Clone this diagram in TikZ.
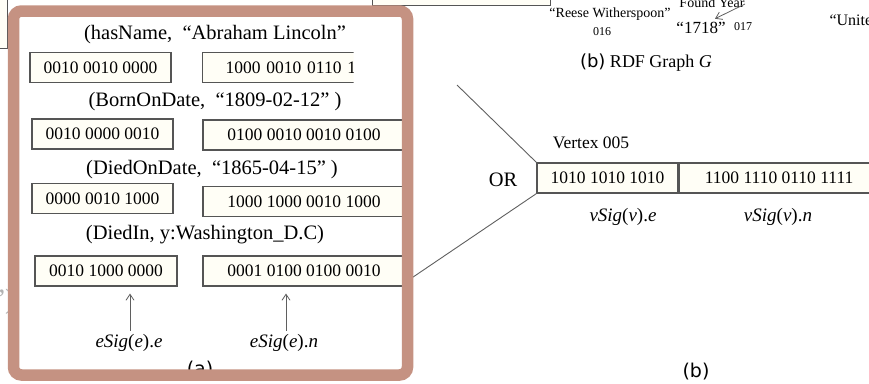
\documentclass[tikz,border=0pt]{standalone}
\usepackage{fontspec}
\setmainfont{Liberation Serif}
\newfontfamily\capfont{DejaVu Sans}
\usetikzlibrary{arrows.meta,positioning}
\definecolor{framebrown}{RGB}{197,146,130}
\definecolor{boxgray}{RGB}{85,85,85}
\definecolor{cream}{RGB}{255,254,246}
\definecolor{linegray}{RGB}{95,95,95}
\newcommand\sigtxt[3]{\textit{#1}(\textit{#2}).\textit{#3}}
\begin{document}
\begin{tikzpicture}[x=1pt,y=-1pt,
  bits/.style={draw=boxgray, fill=cream, line width=1.1pt, minimum height=30pt, inner sep=0pt, font=\fontsize{17.5}{20}\selectfont},
  pair/.style={font=\fontsize{20.5}{24}\selectfont},
  sig/.style={font=\fontsize{19}{22}\selectfont},
  small/.style={font=\fontsize{14}{17}\selectfont},
  tiny/.style={font=\fontsize{12}{14}\selectfont},
  subcap/.style={font=\capfont\fontsize{19}{22}\selectfont},
  tip/.style={draw=linegray, line width=0.8pt, -{Straight Barb[length=6pt,width=8pt]}}]
\useasboundingbox (0,0) rectangle (869,383);
\path[draw=boxgray,fill=cream,line width=0.8pt] (-5,-5) rectangle (7,48);
\path[draw=boxgray,fill=cream,line width=0.8pt] (372,-10) rectangle (550,5);
\node[small] (reese) at (610,14) {“Reese Witherspoon”};
\node[tiny] (n016) at (602,32) {016};
\node[small, anchor=base] (found) at (712,7) {Found Year};
\node[font=\fontsize{17}{20}\selectfont] (n1718) at (701,28) {“1718”};
\node[tiny] (n017) at (743,27) {017};
\node[font=\fontsize{16}{19}\selectfont, anchor=west] (unite) at (826,20) {“Unite};
\coordinate (fyarr) at (745,4);
\coordinate (fyend) at ([xshift=14pt]n1718.north);
\path[tip] (fyarr) -- (fyend);
\node[font=\fontsize{18}{21}\selectfont] (capg) at (646,63) {{\capfont (b)}\ RDF Graph \textit{G}};
\node[bits, minimum width=141pt] (v1) at (607.5,178) {1010 1010 1010};
\node[bits, minimum width=200pt, right=0pt of v1] (v2) {1100 1110 0110 1111};
\node[font=\fontsize{17.5}{20}\selectfont] (vlabel) at (591,143) {Vertex 005};
\node[pair] (or) at (503,180) {OR};
\node[sig] (ve) at (623,217) {\sigtxt{vSig}{v}{e}};
\node[sig] (vn) at (778,217) {\sigtxt{vSig}{v}{n}};
\node[subcap] (capb) at (696,372) {(b)};
\coordinate (up) at (457,85);
\coordinate (down) at (405,282.5);
\path[draw=linegray, line width=0.9pt] (up) -- (v1.north west);
\path[draw=linegray, line width=0.9pt] (down) -- (v1.south west);
\node[font=\fontsize{28}{30}\selectfont, text=gray!60, anchor=east] (gq) at (18,302) {”)};
\path[fill=white, rounded corners=8pt] (13.5,11) rectangle (407.5,375);
\node[pair] (t1) at (215,35) {(hasName,\ \ “Abraham Lincoln”};
\node[bits, minimum width=141pt] (l1) at (100.5,67.5) {0010 0010 0000};
\begin{scope}
\clip (0,0) rectangle (353.5,383);
\node[bits, anchor=west, inner xsep=23pt, text width=156pt, align=left] (r1) at (202,67.5) {1000 0010 0110 1};
\end{scope}
\node[pair] (t2) at (215,102) {(BornOnDate,\ \ “1809-02-12”\ )};
\node[bits, minimum width=141pt] (l2) at (102.5,134) {0010 0000 0010};
\node[bits, minimum width=202pt] (r2) at (304,135) {0100 0010 0010 0100};
\node[pair] (t3) at (212,170) {(DiedOnDate,\ \ “1865-04-15”\ )};
\node[bits, minimum width=141pt] (l3) at (102.5,198.5) {0000 0010 1000};
\node[bits, minimum width=202pt] (r3) at (304,201.5) {1000 1000 0010 1000};
\node[pair] (t4) at (205,235) {(DiedIn, y:Washington\_D.C)};
\node[bits, minimum width=142pt] (l4) at (106,271) {0010 1000 0000};
\node[bits, minimum width=202pt] (r4) at (304,271) {0001 0100 0100 0010};
\node[sig] (ee) at (129,343) {\sigtxt{eSig}{e}{e}};
\node[sig] (en) at (284,343) {\sigtxt{eSig}{e}{n}};
\coordinate (ea) at ([xshift=1pt]ee.north);
\coordinate (na) at ([xshift=2pt]en.north);
\path[tip, shorten >=7pt] (ea) -- (ea |- l4.south);
\path[tip, shorten >=7pt] (na) -- (na |- r4.south);
\node[subcap] (capa) at (200,370) {(a)};
\path[draw=framebrown, line width=11.5pt, rounded corners=8pt] (13.5,11) rectangle (407.5,375);
\end{tikzpicture}
\end{document}
